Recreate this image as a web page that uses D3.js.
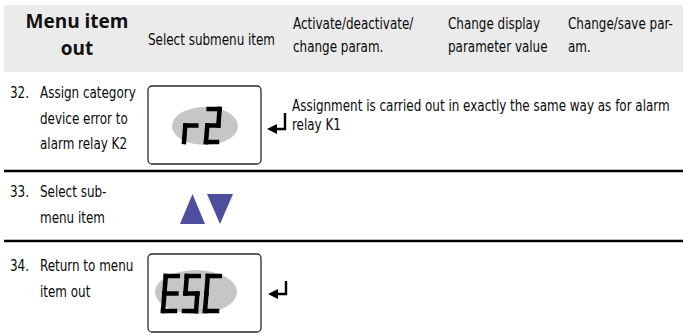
<!DOCTYPE html>
<html>
<head>
<meta charset="utf-8">
<script src="https://cdn.jsdelivr.net/npm/d3@7"></script>
<style>
  html, body { margin: 0; padding: 0; background: #fff; }
  svg { display: block; }
  .cond { font-family: "DejaVu Sans Condensed", "DejaVu Sans", sans-serif; font-size: 15px; fill: #0a0a0a; }
  .head1 { font-family: "Open Sans", "Noto Sans", sans-serif; font-weight: 700; font-size: 19px; fill: #111; }
</style>
</head>
<body>
<svg id="chart" width="683" height="336"></svg>
<script>
// ---- data ----
const headerTitle = ["Menu item", "out"];
const headerColumns = [
  ["Select submenu item"],
  ["Activate/deactivate/", "change param."],
  ["Change display", "parameter value"],
  ["Change/save par-", "am."]
];
const stepNumbers = ["32.", "33.", "34."];
const stepLabels = [
  ["Assign category", "device error to", "alarm relay K2"],
  ["Select sub-", "menu item"],
  ["Return to menu", "item out"]
];
const stepDisplays = ["r2", null, "ESC"];
const stepButtons = [null, ["up", "down"], null];
const stepNotes = [
  ["Assignment is carried out in exactly the same way as for alarm", "relay K1"],
  [],
  []
];

// ---- layout ----
const W = 683, H = 336;
const svg = d3.select("#chart");
const K = 0.887; // horizontal condensing of the narrow body face

const colX = d3.scaleOrdinal().domain([0, 1, 2, 3]).range([148, 293, 448, 568]);
const rowTop = d3.scaleOrdinal().domain([0, 1, 2]).range([72, 171, 241]);
const firstBaseline = d3.scaleOrdinal().domain([0, 1, 2]).range([98, 197, 271]);
const lineH = 25.5;

function condText(x, y, str) {
  return svg.append("text").attr("class", "cond")
    .attr("transform", `translate(${x},${y}) scale(${K},1)`).text(str);
}

// header band
svg.append("rect").attr("x", 4).attr("y", 5).attr("width", W - 4).attr("height", 67).attr("fill", "#ebebeb");

svg.append("text").attr("class", "head1").attr("text-anchor", "middle")
  .selectAll("tspan").data(headerTitle).join("tspan")
  .attr("x", 77).attr("y", (d, i) => 28 + i * 27).text(d => d);

headerColumns.forEach((lines, ci) => {
  const baseY = lines.length === 1 ? 45 : 29;
  lines.forEach((s, i) => condText(colX(ci), baseY + i * 23, s));
});

// row separators
[1, 2].forEach(r => {
  svg.append("line").attr("x1", 4).attr("x2", W).attr("y1", rowTop(r)).attr("y2", rowTop(r))
    .attr("stroke", "#000").attr("stroke-width", 2.5);
});

// step numbers and labels
stepNumbers.forEach((num, r) => {
  condText(10, firstBaseline(r), num);
  stepLabels[r].forEach((s, i) => condText(40, firstBaseline(r) + i * lineH, s));
});

// seven segment glyphs
const segMap = {
  "r": ["e", "g"],
  "2": ["a", "b", "g", "e", "d"],
  "E": ["a", "f", "g", "e", "d"],
  "S": ["a", "f", "g", "c", "d"],
  "C": ["a", "f", "e", "d"]
};
function segLines(w, h) {
  const sk = 0.08;
  const P = (x, y) => [x + (h - y) * sk, y];
  const m = h / 2;
  return {
    a: [P(0, 0), P(w, 0)],
    b: [P(w, 0), P(w, m)],
    c: [P(w, m), P(w, h)],
    d: [P(0, h), P(w, h)],
    e: [P(0, m), P(0, h)],
    f: [P(0, 0), P(0, m)],
    g: [P(0, m), P(w, m)]
  };
}
function drawDisplay(text, box, ell, glyph) {
  const g = svg.append("g");
  g.append("rect").attr("x", box.x).attr("y", box.y).attr("width", box.w).attr("height", box.h)
    .attr("rx", 4).attr("fill", "#fff").attr("stroke", "#2a2a2a").attr("stroke-width", 1.3);
  g.append("ellipse").attr("cx", ell.cx).attr("cy", ell.cy).attr("rx", ell.rx).attr("ry", ell.ry)
    .attr("fill", "#c6c6c6");
  const lines = segLines(glyph.w, glyph.h);
  const line = d3.line();
  text.split("").forEach((ch, i) => {
    const cg = g.append("g").attr("transform", `translate(${glyph.x0 + i * glyph.step},${glyph.y0})`);
    cg.selectAll("path").data(segMap[ch] || []).join("path")
      .attr("d", s => line(lines[s])).attr("fill", "none")
      .attr("stroke", "#000").attr("stroke-width", 4.5).attr("stroke-linecap", "square")
      .attr("stroke-linejoin", "bevel");
  });
  g.append("title").text(text);
}

function drawEnter(xv, yTop, yH) {
  const g = svg.append("g");
  g.append("path").attr("d", `M${xv},${yTop} L${xv},${yH} L${xv - 10},${yH}`)
    .attr("fill", "none").attr("stroke", "#000").attr("stroke-width", 2.4);
  g.append("path").attr("d", `M${xv - 18},${yH} L${xv - 8},${yH - 5} L${xv - 8},${yH + 5} Z`)
    .attr("fill", "#000");
}

// row 32
drawDisplay(stepDisplays[0], {x: 148, y: 86, w: 113, h: 78}, {cx: 205, cy: 126, rx: 33, ry: 19},
  {x0: 184, y0: 109, w: 11, h: 33, step: 22});
drawEnter(285, 113, 129);
stepNotes[0].forEach((s, i) => condText(292, 111 + i * 19, s));

// row 33 buttons
const triColor = "#4e4e9e";
const tri = d3.scaleOrdinal().domain(stepButtons[1]).range([
  "M180,224 L192.5,194 L205,224 Z",
  "M207,194 L233,194 L220,224 Z"
]);
svg.selectAll("path.btn").data(stepButtons[1]).join("path").attr("class", "btn")
  .attr("d", d => tri(d)).attr("fill", triColor);

// row 34
drawDisplay(stepDisplays[2], {x: 148, y: 254, w: 113, h: 78}, {cx: 196, cy: 292, rx: 41, ry: 22},
  {x0: 163, y0: 276, w: 12, h: 35, step: 21});
drawEnter(286, 281, 294);
</script>
</body>
</html>
